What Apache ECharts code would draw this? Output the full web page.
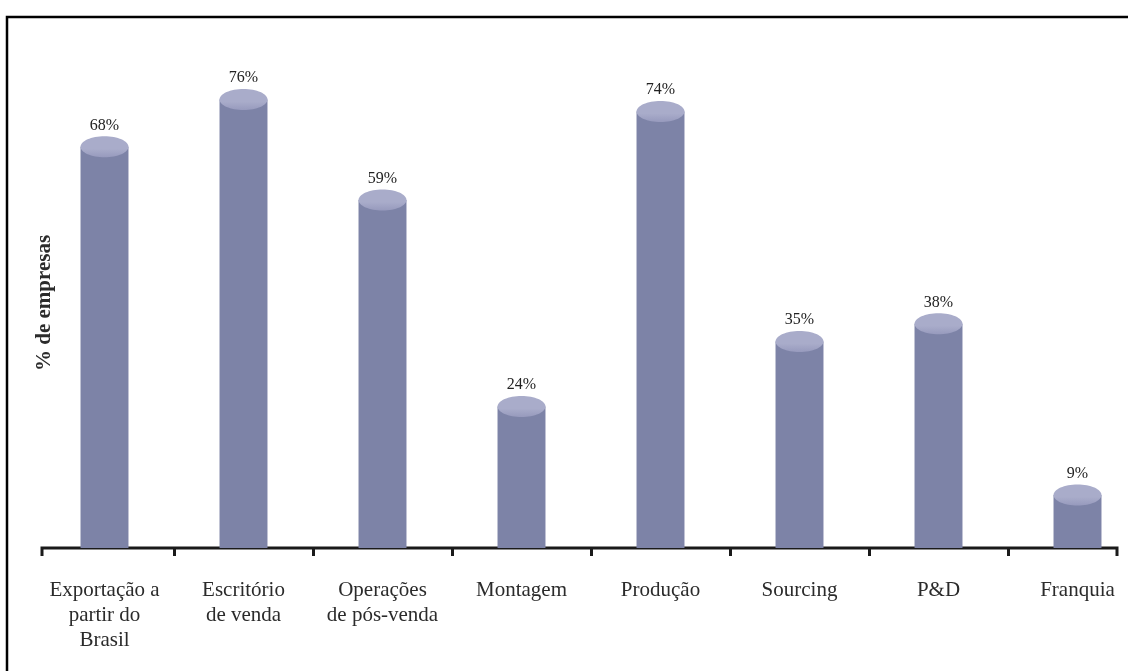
<!DOCTYPE html>
<html>
<head>
<meta charset="utf-8">
<style>
  html, body { margin: 0; padding: 0; background: #ffffff; }
  #chart { width: 1128px; height: 671px; }
</style>
<script src="https://cdn.jsdelivr.net/npm/echarts@6/dist/echarts.min.js"></script>
</head>
<body>
<div id="chart"></div>
<script>
// Modes of international presence (share of companies, %)
const categories = [
  'Exportação a\npartir do\nBrasil',
  'Escritório\nde venda',
  'Operações\nde pós-venda',
  'Montagem',
  'Produção',
  'Sourcing',
  'P&D',
  'Franquia'
];
const shares = [68, 76, 59, 24, 74, 35, 38, 9];
const axisTitle = '% de empresas';

const SERIF = '"Liberation Serif", "DejaVu Serif", serif';
const BODY = '#7d83a7';
const CAP_TOP = '#a9acca';
const CAP_BOTTOM = '#979abd';
const INK = '#1a1a1a';

const chart = echarts.init(document.getElementById('chart'), null, { renderer: 'canvas' });

chart.setOption({
  animation: false,
  backgroundColor: '#ffffff',
  grid: {
    left: 35, width: 1112, top: 76, bottom: 123,
    containLabel: false,
    outerBoundsMode: 'none'
  },
  xAxis: {
    type: 'category',
    data: categories,
    boundaryGap: true,
    axisLine: { show: false },
    axisTick: {
      show: true,
      length: 8,
      interval: function (index) { return index !== 0; },
      lineStyle: { color: INK, width: 3 }
    },
    axisLabel: {
      interval: 0,
      margin: 30,
      color: '#2b2b2b',
      fontFamily: SERIF,
      fontSize: 21,
      lineHeight: 25,
      align: 'center'
    }
  },
  yAxis: {
    type: 'value',
    min: 0,
    max: 80,
    axisLine: { show: false },
    axisTick: { show: false },
    axisLabel: { show: false },
    splitLine: { show: false }
  },
  graphic: [
    // frame: top and left edges
    {
      type: 'polyline',
      shape: { points: [[7, 671], [7, 17], [1128, 17]] },
      style: { stroke: '#000000', lineWidth: 2.5, fill: null }
    },
    // category axis baseline with end ticks
    {
      type: 'polyline',
      shape: { points: [[42, 556], [42, 548], [1117, 548], [1117, 556]] },
      style: { stroke: INK, lineWidth: 3, fill: null }
    },
    {
      type: 'text',
      x: 45,
      y: 303,
      rotation: Math.PI / 2,
      style: {
        text: axisTitle,
        font: 'bold 21px ' + SERIF,
        fill: '#2b2b2b',
        align: 'center',
        verticalAlign: 'middle'
      }
    }
  ],
  series: [{
    type: 'custom',
    data: shares.map((v, i) => [i, v]),
    encode: { x: 0, y: 1 },
    renderItem: function (params, api) {
      const idx = api.value(0);
      const v = api.value(1);
      const base = api.coord([idx, 0]);
      const top = api.coord([idx, v]);
      const bw = api.size([1, 0])[0] * 0.345;
      const ry = 10.5;
      return {
        type: 'group',
        children: [
          {
            type: 'rect',
            shape: { x: base[0] - bw / 2, y: top[1], width: bw, height: base[1] - top[1] },
            style: { fill: BODY }
          },
          {
            type: 'ellipse',
            shape: { cx: top[0], cy: top[1], rx: bw / 2, ry: ry },
            style: {
              fill: new echarts.graphic.LinearGradient(0, 0, 0, 1, [
                { offset: 0, color: CAP_TOP },
                { offset: 0.6, color: CAP_TOP },
                { offset: 1, color: CAP_BOTTOM }
              ])
            }
          },
          {
            type: 'text',
            style: {
              text: v + '%',
              x: top[0],
              y: top[1] - ry - 3,
              align: 'center',
              verticalAlign: 'bottom',
              font: '16px ' + SERIF,
              fill: '#222222'
            }
          }
        ]
      };
    }
  }]
});
</script>
</body>
</html>
